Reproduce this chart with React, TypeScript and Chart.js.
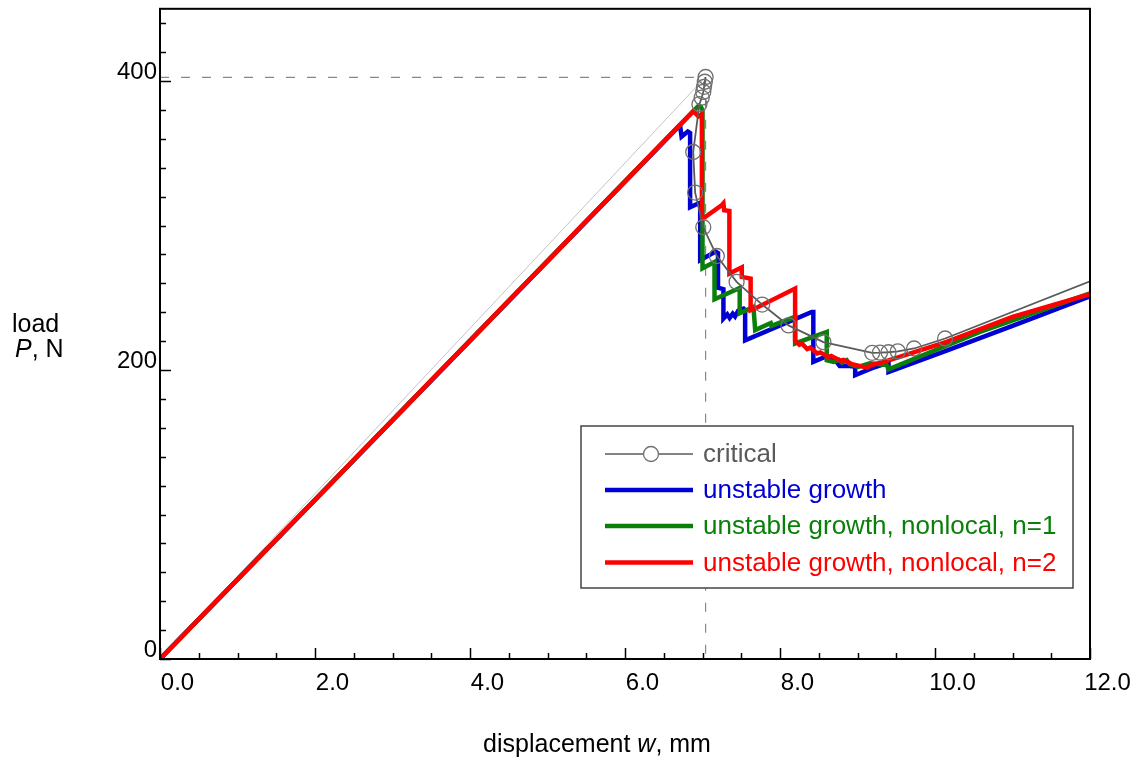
import React, { useEffect, useRef } from 'react';
import { Chart, registerables } from 'chart.js';

Chart.register(...registerables);

// ---- axes ----
const X_MIN = 0;
const X_MAX = 12;
const Y_MIN = 0;
const Y_MAX = 450;
const X_MAJOR = 2;
const X_MINOR = 0.5;
const Y_MAJOR = 200;
const Y_MINOR = 20;
const yTickValues = [0, 200, 400];

// ---- peak reference (dashed guides) ----
const guideX = [0, 6.95, 7.04, 7.04];
const guideY = [402.5, 402.5, 402.5, 0];

// ---- elastic reference line ----
const elasticX = [0, 7.04];
const elasticY = [0, 402.8];

// ---- critical curve ----
const criticalX = [7.04, 7.03, 7.02, 7.01, 6.99, 6.96, 6.88, 6.905, 7.01, 7.185, 7.44, 7.77, 8.11, 8.56, 9.19, 9.29, 9.4, 9.52, 9.73, 10.13, 12.0];
const criticalY = [402.8, 399.5, 396, 392.5, 388.5, 384, 350.9, 322.8, 298.8, 278.9, 261.0, 245.3, 230.9, 219.3, 211.9, 212.0, 212.3, 212.9, 214.9, 221.8, 261.4];

// ---- unstable growth (blue) ----
const blueX = [0, 6.71, 6.73, 6.81, 6.84, 6.84, 6.96, 6.97, 6.97, 7.17, 7.2, 7.2, 7.27, 7.27, 7.32, 7.35, 7.39, 7.42, 7.46, 7.53, 7.55, 7.55, 8.41, 8.43, 8.43, 8.58, 8.73, 8.77, 8.9, 8.97, 8.97, 9.18, 9.38, 9.4, 9.4, 10.15, 11.0, 12.0];
const blueY = [0, 369.5, 361.5, 365, 364, 312.6, 315.6, 315.6, 276, 282, 281, 257, 256, 235.6, 238.5, 236, 239, 237, 241, 242.5, 241.4, 220.6, 240.2, 240.2, 205.6, 209.1, 205.6, 202.7, 202.7, 202.2, 196.4, 201.1, 204.8, 204.5, 198.7, 213.5, 230.5, 251];

// ---- unstable growth, nonlocal, n=1 (green) ----
const greenX = [0, 6.95, 6.976, 7.0, 7.0, 7.155, 7.155, 7.48, 7.48, 7.657, 7.68, 7.88, 7.89, 8.195, 8.195, 8.603, 8.603, 8.69, 8.76, 8.8, 8.86, 8.9, 9.01, 9.16, 9.377, 9.4, 10.58, 12.0];
const greenY = [0, 383, 382.4, 380, 270.4, 274.8, 249.0, 256.8, 239.3, 243.7, 227.6, 232.5, 230.5, 236.8, 218.4, 226.4, 206.8, 205.6, 207, 205, 206.8, 204, 202.2, 204.7, 203.4, 200.5, 226.4, 253.1];

// ---- unstable growth, nonlocal, n=2 (red) ----
const redX = [0, 6.883, 6.948, 6.992, 6.992, 7.034, 7.25, 7.27, 7.28, 7.347, 7.347, 7.507, 7.507, 7.621, 7.621, 7.679, 8.195, 8.195, 8.25, 8.28, 8.35, 8.39, 8.48, 8.52, 8.62, 8.66, 8.78, 8.82, 8.93, 9.05, 9.13, 9.18, 9.3, 10.15, 11.0, 12.0];
const redY = [0, 379.2, 375.6, 377, 305.9, 305.9, 314.2, 315.4, 310.6, 310.1, 266.8, 271.1, 264.4, 263.3, 241.4, 242.6, 256.4, 220.6, 217.5, 218.5, 214.5, 215.5, 211.5, 212.2, 209, 209.8, 206.5, 207, 204, 202.5, 201.7, 203.5, 205, 219.5, 236.8, 252.5];

// ---- legend ----
const legendLabels = ['critical', 'unstable growth', 'unstable growth, nonlocal, n=1', 'unstable growth, nonlocal, n=2'];
const COLORS = {
  critical: '#5a5a5a',
  criticalMarker: '#707070',
  blue: '#0000d4',
  green: '#0a800a',
  red: '#ff0000',
  elastic: '#c4c4c4',
  guide: '#888888',
};
const legendColors = [COLORS.critical, COLORS.blue, COLORS.green, COLORS.red];

const FONT = "'Liberation Sans', Arial, Helvetica, sans-serif";

const pts = (xs: number[], ys: number[]) => xs.map((x, i) => ({ x, y: ys[i] }));

const decorPlugin = {
  id: 'decor',
  afterDraw(chart: any) {
    const { ctx, chartArea: a, scales } = chart;
    const xs = scales.x;
    const ys = scales.y;
    ctx.save();
    // ticks (inward)
    ctx.strokeStyle = '#000';
    ctx.lineWidth = 1.5;
    const nX = Math.round((X_MAX - X_MIN) / X_MINOR);
    for (let i = 0; i <= nX; i++) {
      const v = X_MIN + i * X_MINOR;
      const major = Math.abs(v / X_MAJOR - Math.round(v / X_MAJOR)) < 1e-6;
      const px = Math.round(xs.getPixelForValue(v)) + 0.5;
      ctx.beginPath();
      ctx.moveTo(px, a.bottom);
      ctx.lineTo(px, a.bottom - (major ? 11 : 6));
      ctx.stroke();
    }
    const nY = Math.floor((Y_MAX - Y_MIN) / Y_MINOR);
    for (let i = 0; i <= nY; i++) {
      const v = Y_MIN + i * Y_MINOR;
      const major = Math.abs(v / Y_MAJOR - Math.round(v / Y_MAJOR)) < 1e-6;
      const py = Math.round(ys.getPixelForValue(v)) + 0.5;
      ctx.beginPath();
      ctx.moveTo(a.left, py);
      ctx.lineTo(a.left + (major ? 11 : 6), py);
      ctx.stroke();
    }
    // frame
    ctx.lineWidth = 2;
    ctx.strokeRect(a.left, a.top, a.right - a.left, a.bottom - a.top);

    // axis titles
    ctx.fillStyle = '#000';
    ctx.textBaseline = 'alphabetic';
    ctx.textAlign = 'left';
    const tf = `25px ${FONT}`;
    const tfi = `italic 25px ${FONT}`;
    const parts: [string, string][] = [['displacement ', tf], ['w', tfi], [', mm', tf]];
    let total = 0;
    parts.forEach(([t, f]) => { ctx.font = f; total += ctx.measureText(t).width; });
    let cx = 597 - total / 2;
    parts.forEach(([t, f]) => { ctx.font = f; ctx.fillText(t, cx, 752); cx += ctx.measureText(t).width; });

    ctx.font = tf;
    ctx.fillText('load', 12, 332);
    ctx.font = tfi;
    ctx.fillText('P', 15, 357);
    const pw = ctx.measureText('P').width;
    ctx.font = tf;
    ctx.fillText(', N', 15 + pw, 357);

    // legend
    const L = 581, T = 426, R = 1073, B = 588;
    ctx.fillStyle = '#fff';
    ctx.fillRect(L, T, R - L, B - T);
    ctx.strokeStyle = '#444';
    ctx.lineWidth = 1.5;
    ctx.strokeRect(L, T, R - L, B - T);
    const rows = [454, 490, 526, 562.5];
    ctx.font = `26px ${FONT}`;
    ctx.textBaseline = 'middle';
    legendLabels.forEach((lab, i) => {
      const yy = rows[i];
      ctx.strokeStyle = legendColors[i];
      ctx.lineWidth = i === 0 ? 1.5 : 4.5;
      ctx.beginPath();
      ctx.moveTo(605, yy);
      ctx.lineTo(693, yy);
      ctx.stroke();
      if (i === 0) {
        ctx.fillStyle = '#fff';
        ctx.strokeStyle = COLORS.criticalMarker;
        ctx.lineWidth = 1.3;
        ctx.beginPath();
        ctx.arc(651, yy, 7.5, 0, Math.PI * 2);
        ctx.fill();
        ctx.stroke();
      }
      ctx.fillStyle = legendColors[i];
      ctx.fillText(lab, 703, yy + 1);
    });
    ctx.restore();
  },
};

export default function App() {
  const ref = useRef<HTMLCanvasElement | null>(null);

  useEffect(() => {
    document.body.style.margin = '0';
    if (!ref.current) return;
    const lineBase = {
      showLine: true,
      fill: false,
      tension: 0,
      pointRadius: 0,
      pointHoverRadius: 0,
      borderCapStyle: 'butt',
      borderJoinStyle: 'miter',
    };
    const chart = new Chart(ref.current, {
      type: 'scatter',
      data: {
        datasets: [
          {
            ...lineBase,
            label: 'critical',
            data: pts(criticalX, criticalY),
            borderColor: COLORS.critical,
            borderWidth: 1.8,
            pointRadius: criticalX.map((_, i) => (i === criticalX.length - 1 ? 0 : 7.5)),
            pointBorderColor: COLORS.criticalMarker,
            pointBorderWidth: 1.3,
            pointBackgroundColor: 'rgba(0,0,0,0)',
            order: 0,
          },
          {
            ...lineBase,
            label: 'unstable growth, nonlocal, n=2',
            data: pts(redX, redY),
            borderColor: COLORS.red,
            borderWidth: 4.5,
            order: 1,
          },
          {
            ...lineBase,
            label: 'unstable growth, nonlocal, n=1',
            data: pts(greenX, greenY),
            borderColor: COLORS.green,
            borderWidth: 4.5,
            order: 2,
          },
          {
            ...lineBase,
            label: 'unstable growth',
            data: pts(blueX, blueY),
            borderColor: COLORS.blue,
            borderWidth: 4.5,
            order: 3,
          },
          {
            ...lineBase,
            label: 'elastic',
            data: pts(elasticX, elasticY),
            borderColor: COLORS.elastic,
            borderWidth: 1,
            order: 4,
          },
          {
            ...lineBase,
            label: 'guide',
            data: pts(guideX, guideY),
            borderColor: COLORS.guide,
            borderWidth: 1.2,
            borderDash: [9, 12],
            order: 5,
          },
        ],
      } as any,
      options: {
        animation: false,
        responsive: false,
        maintainAspectRatio: false,
        events: [],
        layout: { padding: { left: 0, right: 55, top: 8, bottom: 0 } },
        plugins: {
          legend: { display: false },
          tooltip: { enabled: false },
          title: { display: false },
        },
        scales: {
          x: {
            type: 'linear',
            min: X_MIN,
            max: X_MAX,
            grid: { display: false, drawTicks: false },
            border: { display: false },
            afterFit: (s: any) => {
              s.height = 104;
              s.paddingLeft = 0;
              s.paddingRight = 0;
            },
            ticks: {
              stepSize: X_MAJOR,
              autoSkip: false,
              maxRotation: 0,
              labelOffset: 17.5,
              padding: 10,
              color: '#000',
              font: { family: FONT, size: 24 },
              callback: (v: any) => Number(v).toFixed(1),
            },
          },
          y: {
            type: 'linear',
            min: Y_MIN,
            max: Y_MAX,
            grid: { display: false, drawTicks: false },
            border: { display: false },
            afterFit: (s: any) => {
              s.width = 160;
              s.paddingTop = 0;
              s.paddingBottom = 0;
            },
            afterBuildTicks: (s: any) => { s.ticks = yTickValues.map((v) => ({ value: v })); },
            ticks: {
              autoSkip: false,
              labelOffset: -9,
              padding: 3,
              color: '#000',
              font: { family: FONT, size: 24 },
              callback: (v: any) => String(v),
            },
          },
        },
      } as any,
      plugins: [decorPlugin],
    });
    return () => chart.destroy();
  }, []);

  return (
    <div style={{ width: 1145, height: 763 }}>
      <canvas ref={ref} width={1145} height={763} style={{ display: 'block', width: 1145, height: 763 }} />
    </div>
  );
}
